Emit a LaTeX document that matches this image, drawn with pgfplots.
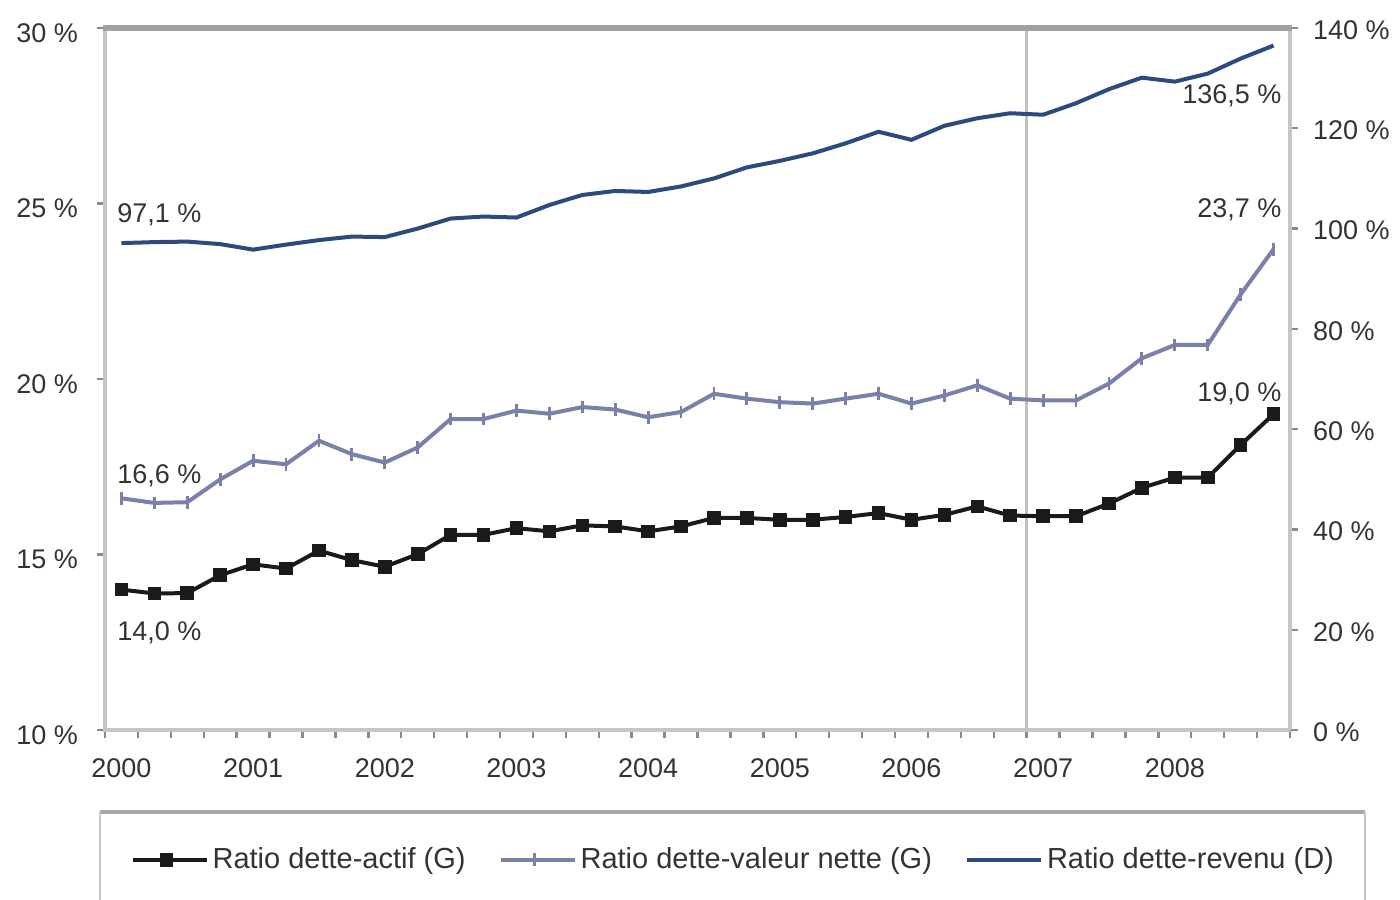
\documentclass[border=0pt]{standalone}
\usepackage{fontspec}
\setmainfont{Liberation Sans}
\usepackage{pgfplots}
\usepackage{pgfplotstable}
\pgfplotsset{compat=1.18}

\definecolor{cact}{HTML}{1A1A1A}
\definecolor{cval}{HTML}{7A80AA}
\definecolor{crev}{HTML}{2C4A7E}
\definecolor{frameD}{HTML}{A8A8A8}
\definecolor{frameL}{HTML}{C6C6C6}
\definecolor{frameT}{HTML}{A0A0A0}
\definecolor{tickc}{HTML}{8A8A8A}
\definecolor{vline}{HTML}{C0C0C0}
\definecolor{txt}{HTML}{333333}

\pgfplotstableread{
x actif valeur revenu
0  14.00 16.60 97.1
1  13.89 16.47 97.3
2  13.90 16.49 97.4
3  14.41 17.14 96.9
4  14.72 17.67 95.8
5  14.60 17.57 96.8
6  15.11 18.24 97.7
7  14.84 17.86 98.4
8  14.65 17.62 98.3
9  15.01 18.05 100.0
10 15.56 18.86 102.0
11 15.56 18.86 102.4
12 15.75 19.10 102.2
13 15.66 19.01 104.7
14 15.83 19.20 106.7
15 15.80 19.13 107.5
16 15.66 18.91 107.3
17 15.80 19.06 108.4
18 16.04 19.58 110.0
19 16.04 19.44 112.2
20 15.99 19.34 113.5
21 15.99 19.30 115.0
22 16.07 19.44 117.0
23 16.18 19.58 119.3
24 15.99 19.30 117.7
25 16.13 19.53 120.5
26 16.37 19.82 122.0
27 16.11 19.44 123.0
28 16.09 19.39 122.7
29 16.09 19.39 125.0
30 16.45 19.87 127.8
31 16.90 20.59 130.1
32 17.19 20.97 129.3
33 17.19 20.97 130.9
34 18.12 22.41 133.9
35 19.00 23.70 136.5
}\data

\newcommand{\fs}{\fontsize{13.5}{16}\selectfont}
\newcommand{\fl}{\fontsize{14.5}{17}\selectfont}

\begin{document}
\begin{tikzpicture}
\begin{axis}[
  scale only axis, width=592.5pt, height=351pt,
  xmin=-0.5, xmax=35.5, ymin=10, ymax=30,
  xtick={0,4,...,32},
  xticklabels={2000,2001,2002,2003,2004,2005,2006,2007,2008},
  minor xtick={-0.5,0.5,...,35.5},
  major x tick style={draw=none},
  ytick={10,15,20,25,30},
  yticklabels={10 \%,15 \%,20 \%,25 \%,30 \%},
  xtick pos=bottom, ytick pos=left,
  tick align=outside,
  major tick length=4pt, minor tick length=4pt,
  tick style={tickc, line width=1.2pt},
  x axis line style={frameD, line width=1.6pt},
  y axis line style={frameL, line width=1.6pt},
  ticklabel style={font=\fs, text=txt},
  yticklabel style={yshift=-2.5pt, xshift=-6pt},
  xticklabel style={yshift=-7pt},
  clip=false,
  legend style={at={(0.531,-0.185)}, anchor=center, draw=none, fill=none,
    font=\fl, text=txt, legend columns=3,
    /tikz/every even column/.append style={column sep=14.5pt}},
  legend cell align=left,
  legend image code/.code={\path (0pt,0pt) -- (37pt,0pt);\draw[mark repeat=2,mark phase=2,#1] plot coordinates {(0pt,0pt) (17pt,0pt) (34pt,0pt)};},
]
\draw[vline, line width=1.6pt] (axis cs:27.5,10) -- (axis cs:27.5,30);
\addplot[cact, line width=2pt, mark=square*, mark size=2.4pt] table[x=x,y=actif] {\data};
\addlegendentry{Ratio dette-actif (G)}
\addplot[cval, line width=2pt, mark=|, mark size=3.2pt, mark options={line width=1.4pt}] table[x=x,y=valeur] {\data};
\addlegendentry{Ratio dette-valeur nette (G)}
\addlegendimage{crev, line width=2pt}
\addlegendentry{Ratio dette-revenu (D)}
\node[anchor=west, font=\fs, text=txt, inner sep=0pt] at (axis cs:-0.135,24.67) {97,1 \%};
\node[anchor=west, font=\fs, text=txt, inner sep=0pt] at (axis cs:-0.135,17.23) {16,6 \%};
\node[anchor=west, font=\fs, text=txt, inner sep=0pt] at (axis cs:-0.135,12.77) {14,0 \%};
\node[anchor=east, font=\fs, text=txt, inner sep=0pt] at (axis cs:35.25,28.06) {136,5 \%};
\node[anchor=east, font=\fs, text=txt, inner sep=0pt] at (axis cs:35.25,24.81) {23,7 \%};
\node[anchor=east, font=\fs, text=txt, inner sep=0pt] at (axis cs:35.25,19.58) {19,0 \%};
\end{axis}
\begin{axis}[
  scale only axis, width=592.5pt, height=351pt,
  xmin=-0.5, xmax=35.5, ymin=0, ymax=140,
  axis x line=none,
  axis y line*=right,
  ytick={0,20,...,140},
  yticklabels={0 \%,20 \%,40 \%,60 \%,80 \%,100 \%,120 \%,140 \%},
  tick align=outside,
  major tick length=4pt,
  tick style={tickc, line width=1.2pt},
  y axis line style={frameL, line width=1.6pt},
  ticklabel style={font=\fs, text=txt},
  yticklabel style={xshift=4pt, yshift=-1pt},
  clip=false,
]
\addplot[crev, line width=2pt, no markers] table[x=x,y=revenu] {\data};
\end{axis}
% top frame of plot area
\draw[frameT, line width=2.6pt] (-0.8pt,351pt) -- (593.3pt,351pt);
% legend frame
\draw[frameD, line width=2.2pt] (-2.5pt,-41pt) -- (630pt,-41pt);
\draw[frameL, line width=1.2pt] (-2.5pt,-41pt) -- (-2.5pt,-90pt);
\draw[frameL, line width=1.2pt] (630pt,-41pt) -- (630pt,-90pt);
\pgfresetboundingbox
\path[use as bounding box] (-52.5pt,-84.5pt) rectangle (647.5pt,365pt);
\end{tikzpicture}
\end{document}
